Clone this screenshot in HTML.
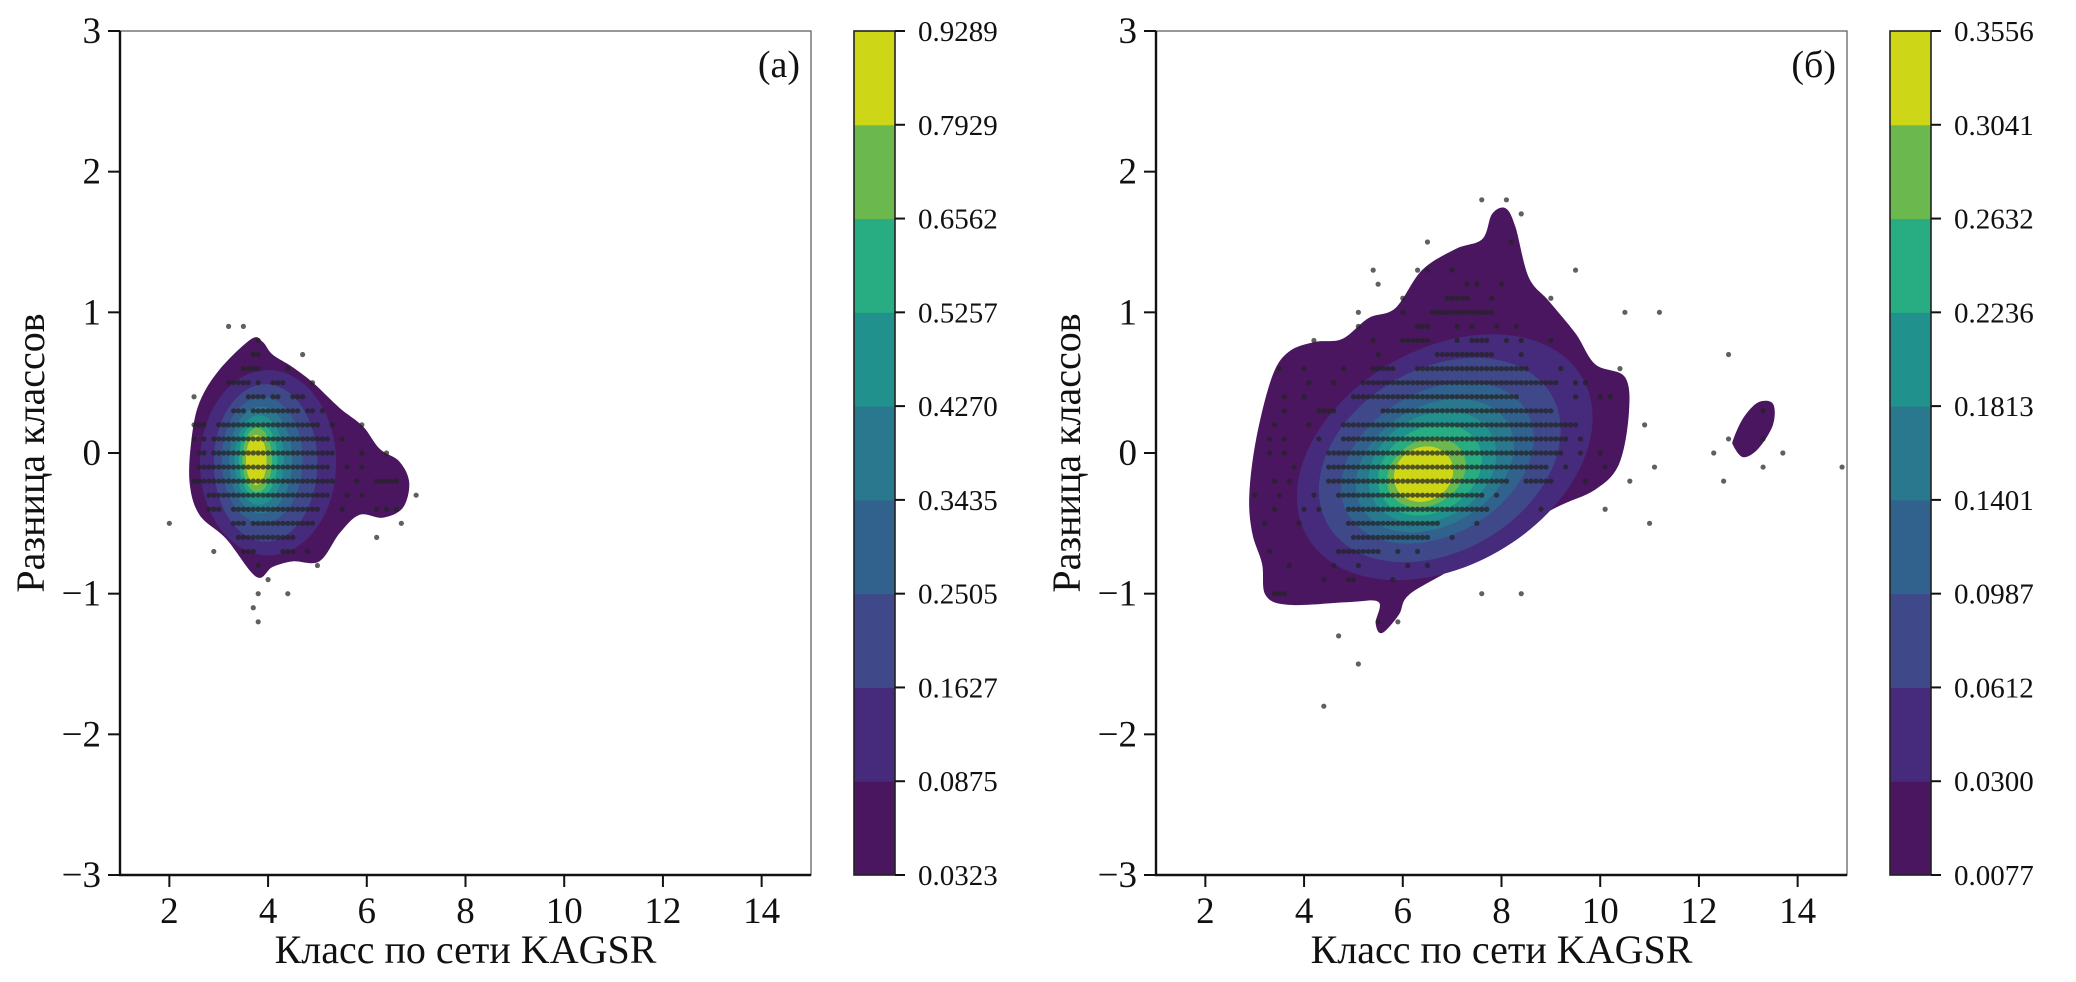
<!DOCTYPE html>
<html><head><meta charset="utf-8">
<style>
html,body{margin:0;padding:0;background:#fff;}
svg{display:block;font-family:"Liberation Serif","DejaVu Serif",serif;}
</style></head>
<body>
<svg id="fig" width="2076" height="982" viewBox="0 0 2076 982" xmlns="http://www.w3.org/2000/svg"></svg>
<script>
// ---------- data ----------
const xTicks = [2,4,6,8,10,12,14];
const yTicks = [-3,-2,-1,0,1,2,3];
const bandColors = ["#4a1660","#462a7b","#3f4889","#31618d","#2a788e","#20918c","#27ad81","#6bb84f","#cdd617"];
const cbLabelsA = ["0.0323","0.0875","0.1627","0.2505","0.3435","0.4270","0.5257","0.6562","0.7929","0.9289"];
const cbLabelsB = ["0.0077","0.0300","0.0612","0.0987","0.1401","0.1813","0.2236","0.2632","0.3041","0.3556"];

const outerA = [[3.66,0.81],[3.01,0.59],[2.61,0.36],[2.45,0.10],[2.41,-0.21],[2.61,-0.44],[3.15,-0.61],[3.76,-0.88],[4.09,-0.81],[4.5,-0.77],[5.04,-0.77],[5.45,-0.57],[5.85,-0.44],[6.32,-0.46],[6.73,-0.39],[6.86,-0.21],[6.66,-0.06],[6.26,0.03],[5.92,0.19],[5.45,0.32],[4.91,0.5],[4.5,0.61],[4.09,0.70],[3.89,0.79]];
// inner levels: [cx, cy, rx, ry, rotDeg]
const levelsA = [[4.0,-0.07,1.38,0.66,0],[3.95,-0.07,1.05,0.56,0],[3.88,-0.05,0.82,0.45,0],[3.85,-0.05,0.64,0.38,0],[3.82,-0.05,0.5,0.32,0],[3.8,-0.05,0.39,0.27,0],[3.78,-0.05,0.3,0.23,0],[3.76,-0.05,0.21,0.18,0]];
const outerB = [[2.89,-0.30],[3.03,0.10],[3.35,0.54],[3.69,0.72],[4.23,0.79],[4.77,0.81],[5.31,0.96],[5.85,1.03],[6.39,1.30],[7.07,1.45],[7.61,1.52],[7.81,1.70],[8.08,1.74],[8.28,1.61],[8.55,1.25],[8.96,1.08],[9.50,0.85],[9.9,0.63],[10.5,0.54],[10.58,0.28],[10.38,-0.08],[9.9,-0.26],[9.09,-0.39],[8.01,-0.61],[6.93,-0.84],[6.12,-1.01],[5.92,-1.15],[5.58,-1.28],[5.45,-1.21],[5.51,-1.06],[4.91,-1.06],[3.69,-1.08],[3.22,-1.01],[3.15,-0.79],[2.95,-0.57]];
const islandB = [[12.7,0.1],[12.9,0.25],[13.2,0.36],[13.5,0.35],[13.5,0.2],[13.2,0.03],[12.9,-0.03],[12.7,0.05]];
const levelsB = [[6.85,-0.03,3.22,0.77,-30],[6.75,-0.05,2.62,0.65,-30],[6.7,-0.07,2.09,0.51,-30],[6.65,-0.09,1.71,0.425,-30],[6.6,-0.1,1.37,0.366,-30],[6.55,-0.12,1.11,0.30,-30],[6.48,-0.14,0.84,0.23,-30],[6.42,-0.15,0.62,0.19,-30]];

// scatter rows: [y, xStart, xEnd] (0.1 steps)
const rowsA = [[0.9,3.2,3.2],[0.9,3.5,3.5],[0.8,3.8,3.8],[0.7,3.7,3.8],[0.7,4.7,4.7],[0.6,3.5,3.8],[0.6,4.4,4.4],[0.5,3.2,3.6],[0.5,3.8,3.8],[0.5,4.1,4.3],[0.5,4.9,4.9],[0.4,2.5,2.5],[0.4,3.6,3.9],[0.4,4.1,4.2],[0.4,4.5,4.7],[0.3,3.3,3.5],[0.3,3.7,4.6],[0.3,4.8,4.9],[0.3,5.1,5.1],[0.2,2.5,2.7],[0.2,3.0,5.0],[0.2,5.3,5.3],[0.2,5.9,5.9],[0.1,2.5,2.5],[0.1,2.7,2.7],[0.1,2.9,5.2],[0.1,5.5,5.5],[0.0,2.6,2.7],[0.0,2.9,5.3],[0.0,5.9,5.9],[0.0,6.4,6.4],[-0.1,2.6,5.2],[-0.1,5.6,5.6],[-0.1,5.9,5.9],[-0.2,2.5,5.3],[-0.2,5.8,5.8],[-0.2,6.2,6.6],[-0.3,2.8,5.2],[-0.3,5.6,5.6],[-0.3,5.9,5.9],[-0.3,7.0,7.0],[-0.4,2.8,3.0],[-0.4,3.3,5.0],[-0.4,5.5,5.5],[-0.4,6.2,6.2],[-0.4,6.4,6.4],[-0.4,6.6,6.6],[-0.5,2.0,2.0],[-0.5,3.3,3.5],[-0.5,3.7,4.9],[-0.5,6.7,6.7],[-0.6,3.4,4.5],[-0.6,6.2,6.2],[-0.7,2.9,2.9],[-0.7,3.5,3.7],[-0.7,4.3,4.5],[-0.7,4.8,4.8],[-0.8,3.8,3.8],[-0.8,5.0,5.0],[-0.9,4.0,4.0],[-1.0,3.8,3.8],[-1.0,4.4,4.4],[-1.1,3.7,3.7],[-1.2,3.8,3.8]];
const rowsB = [[1.8,7.6,7.6],[1.8,8.1,8.1],[1.7,8.4,8.4],[1.5,6.5,6.5],[1.5,8.2,8.2],[1.3,5.4,5.4],[1.3,6.3,6.3],[1.3,6.5,6.5],[1.3,7.0,7.0],[1.3,9.5,9.5],[1.2,5.5,5.5],[1.2,7.3,7.3],[1.2,7.5,7.5],[1.2,8.0,8.0],[1.1,6.0,6.0],[1.1,6.9,7.3],[1.1,7.8,7.8],[1.1,9.0,9.0],[1.0,5.1,5.1],[1.0,6.0,6.0],[1.0,6.6,7.8],[0.9,5.1,5.1],[0.9,6.3,6.5],[0.9,7.1,7.1],[0.9,7.4,7.4],[0.9,7.9,7.9],[0.9,8.3,8.3],[0.8,4.2,4.2],[0.8,5.4,5.4],[0.8,6.0,6.5],[0.8,7.1,7.1],[0.8,7.4,7.7],[0.8,8.1,8.1],[0.8,8.4,8.4],[0.8,9.0,9.0],[0.7,5.5,5.5],[0.7,6.7,7.8],[0.7,8.4,8.4],[0.6,3.5,3.5],[0.6,4.0,4.0],[0.6,4.8,4.8],[0.6,5.4,5.8],[0.6,6.3,8.5],[0.6,9.2,9.2],[0.6,10.4,10.4],[0.5,4.1,4.1],[0.5,4.6,4.6],[0.5,5.2,9.1],[0.5,9.5,9.5],[0.5,9.7,9.7],[0.4,3.6,3.6],[0.4,4.0,4.0],[0.4,5.0,8.3],[0.4,9.5,9.5],[0.4,10.0,10.0],[0.4,10.2,10.2],[0.3,3.6,3.6],[0.3,4.3,4.6],[0.3,5.6,9.0],[0.3,13.3,13.3],[0.2,3.4,3.4],[0.2,4.1,4.1],[0.2,4.8,9.5],[0.2,10.9,10.9],[0.1,3.3,3.3],[0.1,3.6,3.6],[0.1,4.3,4.3],[0.1,4.8,9.3],[0.1,9.6,9.6],[0.1,12.6,12.6],[0.1,13.3,13.3],[0.0,3.3,3.3],[0.0,3.6,3.6],[0.0,4.5,9.2],[0.0,9.6,9.6],[0.0,10.0,10.0],[0.0,12.3,12.3],[0.0,13.7,13.7],[-0.1,3.8,3.8],[-0.1,4.5,8.9],[-0.1,9.3,9.3],[-0.1,10.1,10.1],[-0.1,11.1,11.1],[-0.1,13.3,13.3],[-0.1,14.9,14.9],[-0.2,3.4,3.4],[-0.2,3.7,3.7],[-0.2,4.5,8.1],[-0.2,8.5,9.0],[-0.2,9.7,9.7],[-0.2,10.6,10.6],[-0.2,12.5,12.5],[-0.3,3.0,3.0],[-0.3,3.5,3.5],[-0.3,4.2,4.2],[-0.3,4.7,7.6],[-0.3,7.9,7.9],[-0.4,3.4,3.4],[-0.4,4.0,4.0],[-0.4,4.3,4.3],[-0.4,4.9,7.7],[-0.4,8.8,8.8],[-0.4,10.1,10.1],[-0.5,3.2,3.2],[-0.5,3.9,3.9],[-0.5,4.9,6.7],[-0.5,7.5,7.5],[-0.5,11.0,11.0],[-0.6,5.0,6.5],[-0.6,7.0,7.0],[-0.7,3.3,3.3],[-0.7,4.7,5.5],[-0.7,5.9,5.9],[-0.7,6.3,6.3],[-0.8,3.7,3.7],[-0.8,4.6,4.6],[-0.8,5.1,5.1],[-0.8,6.1,6.1],[-0.8,6.5,6.5],[-0.9,4.4,4.4],[-0.9,4.9,5.0],[-0.9,5.8,5.8],[-1.0,3.4,3.6],[-1.0,7.6,7.6],[-1.0,8.4,8.4],[-1.2,5.5,5.5],[-1.2,5.9,5.9],[-1.3,4.7,4.7],[-1.5,5.1,5.1],[-1.8,4.4,4.4],[1.0,10.5,10.5],[1.0,11.2,11.2],[0.7,12.6,12.6]];

// ---------- drawing ----------
const NS = "http://www.w3.org/2000/svg";
const svg = document.getElementById("fig");
function mk(tag, attrs, parent){
  const e = document.createElementNS(NS, tag);
  for (const k in attrs) e.setAttribute(k, attrs[k]);
  (parent||svg).appendChild(e);
  return e;
}
function smoothPath(pts){
  const n = pts.length; let d = "M"+pts[0][0]+","+pts[0][1];
  for (let i=0;i<n;i++){
    const p0=pts[(i-1+n)%n], p1=pts[i], p2=pts[(i+1)%n], p3=pts[(i+2)%n];
    const c1x=p1[0]+(p2[0]-p0[0])/6, c1y=p1[1]+(p2[1]-p0[1])/6;
    const c2x=p2[0]-(p3[0]-p1[0])/6, c2y=p2[1]-(p3[1]-p1[1])/6;
    d+=" C"+c1x+","+c1y+" "+c2x+","+c2y+" "+p2[0]+","+p2[1];
  }
  return d+"Z";
}

function panel(id, ox, outer, island, levels, rows, cbLabels, letter){
  const L = ox+120, R = ox+811, T = 31, B = 875;
  const sx = x => L + (x-1)*(R-L)/14;
  const sy = y => B - (y+3)*(B-T)/6;
  const g = mk("g", {});
  
  
  const clip = mk("clipPath", {id:"clip"+id}, g);
  mk("rect", {x:L, y:T, width:R-L, height:B-T}, clip);
  const dens = mk("g", {"clip-path":"url(#clip"+id+")"}, g);
  
  
  const o = mk("path", {d:smoothPath(outer.map(p=>[sx(p[0]),sy(p[1])])), fill:bandColors[0]}, dens);
  
  
  if (island){
    const is = mk("path", {d:smoothPath(island.map(p=>[sx(p[0]),sy(p[1])])), fill:bandColors[0]}, dens);
    
    
  }
  levels.forEach((lv,i)=>{
    const cx=sx(lv[0]), cy=sy(lv[1]);
    const rx=lv[2]*(R-L)/14, ry=lv[3]*(B-T)/6;
    const e = mk("ellipse", {cx:cx, cy:cy, rx:rx, ry:ry, fill:bandColors[i+1], transform:"rotate("+lv[4]+" "+cx+" "+cy+")"}, dens);
    
    
  });
  const sc = mk("g", {"clip-path":"url(#clip"+id+")", fill:"#222", "fill-opacity":"0.72"}, g);
  
  
  rows.forEach(r=>{
    const n = Math.round((r[2]-r[1])*10);
    for (let k=0;k<=n;k++){
      const x = r[1]+k/10;
      const c = mk("circle", {cx:sx(x), cy:sy(r[0]), r:2.6}, sc);
      
      
    }
  });
  mk("rect", {x:L, y:T, width:R-L, height:B-T, fill:"none", stroke:"#555", "stroke-width":1.2}, g);
  mk("line", {x1:L, y1:T, x2:L, y2:B+1, stroke:"#111", "stroke-width":2.4}, g);
  mk("line", {x1:L-1, y1:B, x2:R, y2:B, stroke:"#111", "stroke-width":2.4}, g);
  xTicks.forEach(v=>{
    mk("line", {x1:sx(v), y1:B, x2:sx(v), y2:B+12, stroke:"#111", "stroke-width":2}, g);
    const t = mk("text", {x:sx(v), y:B+48, "text-anchor":"middle", "font-size":37, fill:"#111"}, g);
    t.textContent = v;
    
    
  });
  yTicks.forEach(v=>{
    mk("line", {x1:L-12, y1:sy(v), x2:L, y2:sy(v), stroke:"#111", "stroke-width":2}, g);
    const t = mk("text", {x:L-19, y:sy(v)+12, "text-anchor":"end", "font-size":37, fill:"#111"}, g);
    t.textContent = v<0 ? "\u2212"+(-v) : v;
    
    
  });
  const xt = mk("text", {x:(L+R)/2, y:963, "text-anchor":"middle", "font-size":40, fill:"#111"}, g);
  xt.textContent = "Класс по сети KAGSR";
  
  
  const yt = mk("text", {x:0, y:0, "text-anchor":"middle", "font-size":40, fill:"#111", transform:"translate("+(ox+44)+","+sy(0)+") rotate(-90)"}, g);
  yt.textContent = "Разница классов";
  
  
  const pl = mk("text", {x:R-11, y:77, "text-anchor":"end", "font-size":38, fill:"#111"}, g);
  pl.textContent = letter;
  
  
  const cb = mk("g", {}, g);
  
  
  const CL = ox+854, CR = ox+895, bh = (B-T)/bandColors.length;
  bandColors.forEach((c,i)=>{
    const r = mk("rect", {x:CL, y:B-(i+1)*bh, width:CR-CL, height:bh+0.5, fill:c}, cb);
    
    
  });
  mk("rect", {x:CL, y:T, width:CR-CL, height:B-T, fill:"none", stroke:"#222", "stroke-width":1.6}, cb);
  cbLabels.forEach((lab,i)=>{
    const y = B - i*bh;
    mk("line", {x1:CR, y1:y, x2:CR+10, y2:y, stroke:"#111", "stroke-width":2}, cb);
    const t = mk("text", {x:CR+23, y:y+10, "font-size":29, fill:"#111"}, cb);
    t.textContent = lab;
    
    
  });
}
panel("a", 0, outerA, null, levelsA, rowsA, cbLabelsA, "(a)");
panel("b", 1036, outerB, islandB, levelsB, rowsB, cbLabelsB, "(б)");
</script>
</body></html>
